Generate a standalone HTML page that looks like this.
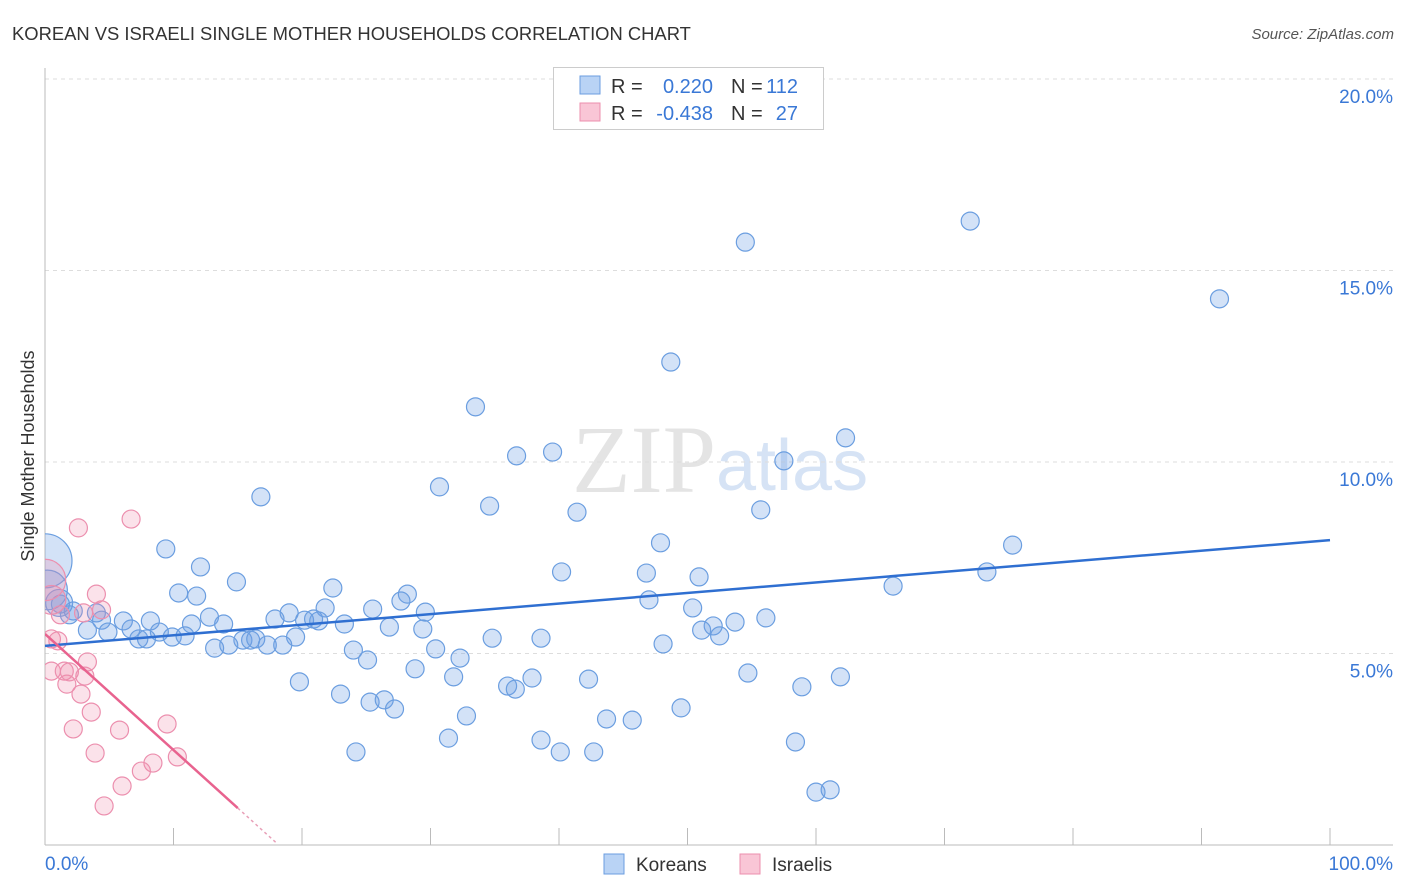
<!DOCTYPE html>
<html><head><meta charset="utf-8"><style>
body{margin:0;background:#fff;font-family:"Liberation Sans",sans-serif}
svg{display:block}
</style></head><body>
<svg id="chart" width="1406" height="892" viewBox="0 0 1406 892">
<defs><clipPath id="plotclip"><rect x="45" y="60" width="1360" height="785"/></clipPath></defs>
<text x="12" y="40" font-size="18.4" fill="#333">KOREAN VS ISRAELI SINGLE MOTHER HOUSEHOLDS CORRELATION CHART</text>
<text x="1394" y="39" font-size="15" fill="#555" text-anchor="end" font-style="italic">Source: ZipAtlas.com</text>
<text x="716" y="492" font-size="96" fill="#e4e4e4" text-anchor="end" font-family="Liberation Serif,serif">ZIP</text>
<text x="716" y="490" font-size="72" fill="#d6e3f5">atlas</text>
<g id="grid"></g><g id="axes"></g><g id="marks" clip-path="url(#plotclip)"></g>
<text transform="translate(34,456) rotate(-90)" font-size="18" fill="#333" text-anchor="middle">Single Mother Households</text>
<text x="45" y="870" font-size="19" fill="#3a78d6">0.0%</text>
<text x="1393" y="870" font-size="19" fill="#3a78d6" text-anchor="end">100.0%</text>
<g>
<rect x="553.5" y="67.5" width="270" height="62" fill="#fff" stroke="#ccc"/>
<rect x="580" y="76" width="20" height="18" fill="#b9d3f5" stroke="#6b9ee0"/>
<rect x="580" y="103" width="20" height="18" fill="#f9c6d6" stroke="#ec8fae"/>
<g font-size="20" fill="#333">
<text x="611" y="93">R =</text><text x="713" y="93" text-anchor="end" fill="#3a78d6">0.220</text>
<text x="731" y="93">N =</text><text x="798" y="93" text-anchor="end" fill="#3a78d6">112</text>
<text x="611" y="120">R =</text><text x="713" y="120" text-anchor="end" fill="#3a78d6">-0.438</text>
<text x="731" y="120">N =</text><text x="798" y="120" text-anchor="end" fill="#3a78d6">27</text>
</g>
</g>
<g>
<rect x="604" y="854" width="20" height="20" fill="#b9d3f5" stroke="#6b9ee0"/>
<text x="636" y="871" font-size="19" fill="#333">Koreans</text>
<rect x="740" y="854" width="20" height="20" fill="#f9c6d6" stroke="#ec8fae"/>
<text x="772" y="871" font-size="19" fill="#333">Israelis</text>
</g>
</svg>
<script>
const yTicks=[5,10,15,20];
const yTickLabels=["5.0%","10.0%","15.0%","20.0%"];
const xTicks=[10,20,30,40,50,60,70,80,90,100];
const blueX=[72.0,54.5,91.4,48.7,33.5,62.3,36.7,39.5,57.5,16.8,30.7,34.6,41.4,55.7,9.4,47.9,75.3,12.1,40.2,46.8,50.9,14.9,66.0,73.3,10.4,11.8,22.4,28.2,47.0,27.7,25.5,21.8,19.0,29.6,50.4,56.1,12.8,8.2,6.1,4.0,2.2,1.9,1.2,4.4,11.4,13.9,17.9,20.2,20.9,21.3,23.3,26.8,53.7,52.0,6.7,8.9,3.3,4.9,7.3,7.9,9.9,10.9,15.4,16.0,16.4,19.5,29.4,34.8,38.6,51.1,52.5,13.2,14.3,17.3,18.5,24.0,30.4,48.1,25.1,32.3,28.8,31.8,19.8,23.0,25.3,26.4,27.2,36.0,36.6,37.9,42.3,54.7,58.9,61.9,32.8,43.7,45.7,49.5,31.4,38.6,24.2,40.1,42.7,58.4,60.0,61.1,0.0,0.2,1.1];
const blueY=[16.29,15.74,14.26,12.61,11.44,10.63,10.16,10.26,10.03,9.09,9.35,8.85,8.69,8.75,7.73,7.89,7.83,7.26,7.13,7.10,7.00,6.87,6.76,7.13,6.58,6.50,6.71,6.55,6.40,6.37,6.16,6.19,6.06,6.08,6.19,5.93,5.95,5.85,5.85,6.06,6.11,6.01,6.29,5.87,5.77,5.77,5.90,5.87,5.90,5.85,5.77,5.69,5.82,5.72,5.64,5.56,5.61,5.56,5.38,5.38,5.43,5.46,5.35,5.35,5.38,5.43,5.64,5.40,5.40,5.61,5.46,5.14,5.22,5.22,5.22,5.09,5.12,5.25,4.83,4.88,4.60,4.39,4.26,3.94,3.73,3.79,3.55,4.15,4.07,4.36,4.33,4.49,4.13,4.39,3.37,3.29,3.26,3.58,2.79,2.74,2.43,2.43,2.43,2.69,1.38,1.44,7.42,6.66,6.32];
const blueBigScale=[3.0,2.2,1.5];
const pinkX=[2.6,6.7,4.0,4.4,3.0,1.2,0.5,1.0,0.5,1.5,1.7,1.9,3.3,2.8,3.1,3.6,2.2,5.8,3.9,8.4,10.3,7.5,6.0,9.5,4.6,0.0,0.5];
const pinkY=[8.28,8.51,6.55,6.14,6.06,6.01,5.38,5.33,4.54,4.54,4.20,4.52,4.78,3.94,4.41,3.47,3.03,3.00,2.40,2.14,2.30,1.93,1.54,3.16,1.02,6.92,6.40];
const pinkBigScale=[2.3,1.6];
const blueTrend=[5.20,7.96];
const pinkTrend=[5.51,-0.303];
const NS="http://www.w3.org/2000/svg";
const X0=45,X1=1330,Y0=845,YS=38.3;
const xs=v=>X0+(X1-X0)*v/100, ys=v=>Y0-v*YS;
function mk(t,a,p){const e=document.createElementNS(NS,t);for(const k in a)e.setAttribute(k,a[k]);p.appendChild(e);return e;}
const grid=document.getElementById('grid'),axes=document.getElementById('axes'),marks=document.getElementById('marks');
yTicks.forEach((v,i)=>{
 const l=mk('line',{x1:45,x2:1393,y1:ys(v),y2:ys(v),stroke:'#ddd','stroke-dasharray':'4,4'},grid);
 
 
 const t=mk('text',{x:1393,y:ys(v)+24,'font-size':19,fill:'#3a78d6','text-anchor':'end'},grid);
 t.textContent=yTickLabels[i];
 
 
});
const ya=mk('line',{x1:45,x2:45,y1:68,y2:845,stroke:'#bbb'},axes);


const xa=mk('line',{x1:45,x2:1393,y1:845,y2:845,stroke:'#bbb'},axes);


xTicks.forEach(v=>{
 const t=mk('line',{x1:xs(v),x2:xs(v),y1:828,y2:845,stroke:'#bbb'},axes);
 
 
});
function rOf(i,n,big){const k=i-(n-big.length);return 9*(k>=0?big[k]:1);}
blueX.forEach((x,i)=>{
 const c=mk('circle',{cx:xs(x),cy:ys(blueY[i]),r:rOf(i,blueX.length,blueBigScale),fill:'rgba(110,160,230,0.3)',stroke:'#6b9ee0','stroke-width':1.2},marks);
 
 
});
pinkX.forEach((x,i)=>{
 const c=mk('circle',{cx:xs(x),cy:ys(pinkY[i]),r:rOf(i,pinkX.length,pinkBigScale),fill:'rgba(240,140,170,0.25)',stroke:'#ec8fae','stroke-width':1.2},marks);
 
 
});
const bl=mk('line',{x1:xs(0),y1:ys(blueTrend[0]),x2:xs(100),y2:ys(blueTrend[1]),stroke:'#2f6fd1','stroke-width':2.5},marks);


const pl=mk('line',{x1:xs(0),y1:ys(pinkTrend[0]),x2:xs(15),y2:ys(pinkTrend[0]+15*pinkTrend[1]),stroke:'#e8638f','stroke-width':2.5},marks);


const pd=mk('line',{x1:xs(15),y1:ys(pinkTrend[0]+15*pinkTrend[1]),x2:xs(18),y2:ys(pinkTrend[0]+18*pinkTrend[1]),stroke:'#e8a0b8','stroke-width':1.5,'stroke-dasharray':'3,3'},marks);


</script>
</body></html>
